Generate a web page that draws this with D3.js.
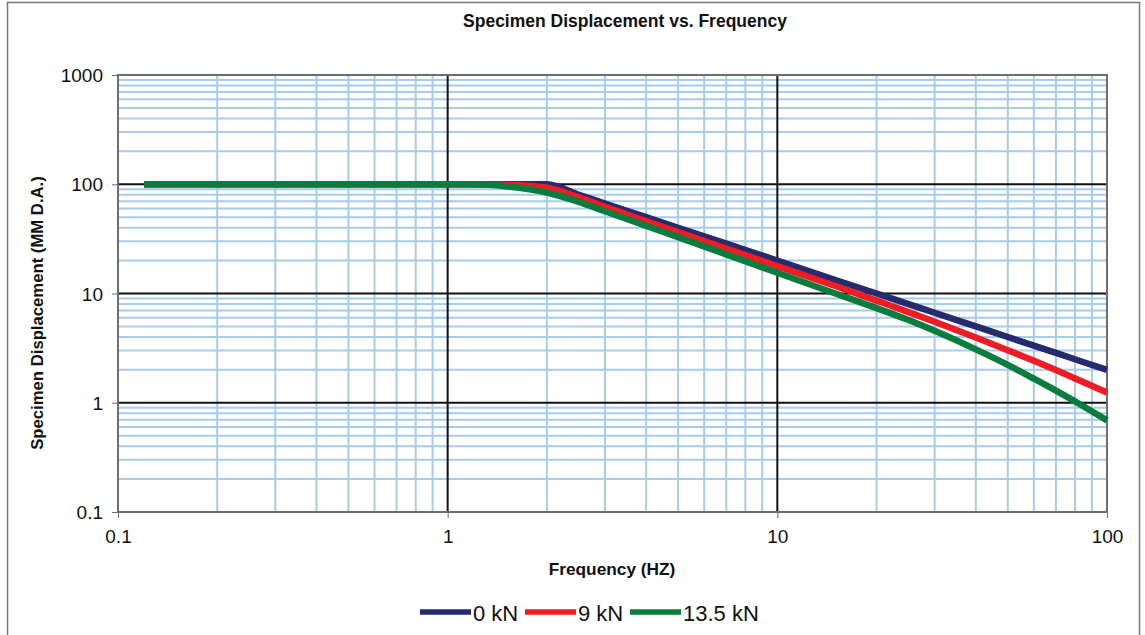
<!DOCTYPE html>
<html><head><meta charset="utf-8">
<script src="https://cdn.jsdelivr.net/npm/d3@7"></script>
<style>body{margin:0;background:#fff}svg{display:block;font-family:"Liberation Sans",Arial,sans-serif}</style>
</head><body><svg id="c" width="1145" height="635"></svg>
<script>
const freq = [0.12, 1, 1.2, 1.5, 2, 2.5, 3, 4, 5, 7, 10, 15, 20, 25, 30, 40, 50, 60, 70, 85, 100];
const disp0kN = [100, 100, 100, 100, 100, 80, 66.7, 50, 40, 28.6, 20, 13.3, 10, 8, 6.67, 5, 4, 3.33, 2.86, 2.35, 2];
const disp9kN = [100, 100, 100, 99, 93, 76, 62, 46, 36.5, 25.8, 17.8, 11.7, 8.6, 6.76, 5.52, 3.96, 3.03, 2.42, 1.99, 1.54, 1.24];
const disp13kN = [100, 100, 100, 96, 84, 69, 56.6, 41.6, 32.8, 22.8, 15.5, 10.0, 7.35, 5.71, 4.55, 3.08, 2.22, 1.66, 1.29, 0.925, 0.69];
const seriesNames = ["0 kN", "9 kN", "13.5 kN"];
const seriesColors = ["#262a6e", "#ee1c25", "#0a7d3e"];
const xTicks = [0.1, 1, 10, 100];
const yTicks = [0.1, 1, 10, 100, 1000];
const xTickLabels = ["0.1", "1", "10", "100"];
const yTickLabels = ["0.1", "1", "10", "100", "1000"];

const svg = d3.select("#c");
const L = 118, R = 1107, T = 75, B = 512;
const x = d3.scaleLog().domain([0.1, 100]).range([L, R]);
const y = d3.scaleLog().domain([0.1, 1000]).range([B, T]);

// outer border
svg.append("rect").attr("x", 7.5).attr("y", 2.5).attr("width", 1132).attr("height", 640)
  .attr("fill", "none").attr("stroke", "#7a7a7a").attr("stroke-width", 1.5);

// minor grid
const minorX = [], minorY = [];
for (let d = 0.1; d < 100; d *= 10) for (let k = 2; k <= 9; k++) minorX.push(+(d * k).toPrecision(3));
for (let d = 0.1; d < 1000; d *= 10) for (let k = 2; k <= 9; k++) minorY.push(+(d * k).toPrecision(3));
const g = svg.append("g");
g.selectAll(".mx").data(minorX).join("line").attr("x1", d => x(d)).attr("x2", d => x(d))
  .attr("y1", T).attr("y2", B).attr("stroke", "#a6cbeb").attr("stroke-width", 2);
g.selectAll(".my").data(minorY).join("line").attr("y1", d => y(d)).attr("y2", d => y(d))
  .attr("x1", L).attr("x2", R).attr("stroke", "#a6cbeb").attr("stroke-width", 2);
// major grid
g.selectAll(".Mx").data(xTicks.slice(1, -1)).join("line").attr("x1", d => x(d)).attr("x2", d => x(d))
  .attr("y1", T).attr("y2", B).attr("stroke", "#111").attr("stroke-width", 2);
g.selectAll(".My").data(yTicks.slice(1, -1)).join("line").attr("y1", d => y(d)).attr("y2", d => y(d))
  .attr("x1", L).attr("x2", R).attr("stroke", "#111").attr("stroke-width", 2);
// plot border
svg.append("rect").attr("x", L).attr("y", T).attr("width", R - L).attr("height", B - T)
  .attr("fill", "none").attr("stroke", "#6e6e6e").attr("stroke-width", 2);

// axes
const yAxis = d3.axisLeft(y).tickValues(yTicks).tickFormat((d, i) => yTickLabels[i]).tickSize(6).tickPadding(9);
const ya = svg.append("g").attr("transform", `translate(${L},0)`).call(yAxis);
const xAxis = d3.axisBottom(x).tickValues(xTicks).tickFormat((d, i) => xTickLabels[i]).tickSize(6).tickPadding(12);
const xa = svg.append("g").attr("transform", `translate(0,${B})`).call(xAxis);
[ya, xa].forEach(a => {
  a.select(".domain").remove();
  a.selectAll(".tick line").attr("stroke", "#6e6e6e").attr("stroke-width", 1);
  a.selectAll("text").attr("font-size", 19).attr("fill", "#111").attr("font-family", "Liberation Sans, Arial, sans-serif");
});
ya.selectAll("text").attr("dy", "0.35em");

// series
const all = [disp0kN, disp9kN, disp13kN];
const line = d3.line().x(d => x(d[0])).y(d => y(d[1])).curve(d3.curveMonotoneX);
all.forEach((vals, i) => {
  svg.append("path").datum(freq.map((f, j) => [f, vals[j]]))
    .attr("d", line).attr("fill", "none").attr("stroke", seriesColors[i])
    .attr("stroke-width", 6.5).attr("stroke-linejoin", "round");
});

// titles
svg.append("text").attr("x", 625).attr("y", 27).attr("text-anchor", "middle")
  .attr("font-weight", "bold").attr("font-size", 17.5).attr("fill", "#111")
  .text("Specimen Displacement vs. Frequency");
svg.append("text").attr("x", 612).attr("y", 575).attr("text-anchor", "middle")
  .attr("font-weight", "bold").attr("font-size", 17.3).attr("fill", "#111")
  .text("Frequency (HZ)");
svg.append("text").attr("transform", `translate(43,313) rotate(-90)`).attr("text-anchor", "middle")
  .attr("font-weight", "bold").attr("font-size", 16.7).attr("fill", "#111")
  .text("Specimen Displacement (MM D.A.)");

// legend
const legX = [420, 525, 630];
seriesNames.forEach((n, i) => {
  svg.append("line").attr("x1", legX[i]).attr("x2", legX[i] + 51).attr("y1", 612).attr("y2", 612)
    .attr("stroke", seriesColors[i]).attr("stroke-width", 5.5);
  svg.append("text").attr("x", legX[i] + 53).attr("y", 621).attr("font-size", 22).attr("fill", "#111").text(n);
});
</script></body></html>
